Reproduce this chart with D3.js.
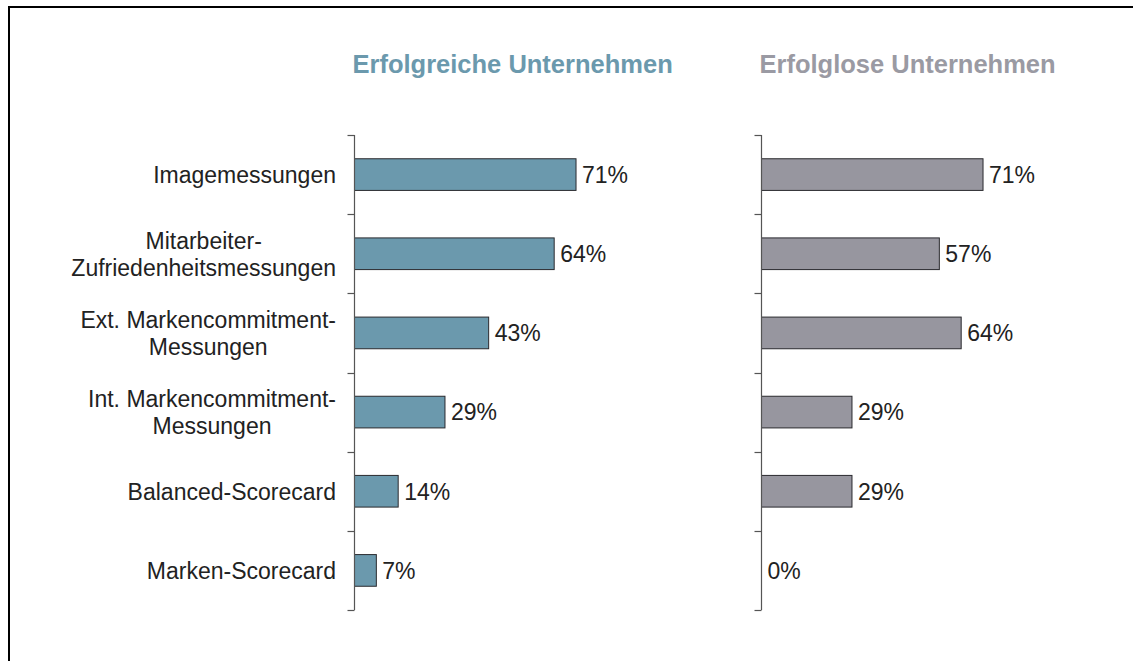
<!DOCTYPE html>
<html>
<head>
<meta charset="utf-8">
<script src="https://cdn.jsdelivr.net/npm/d3@7"></script>
<style>
  html, body { margin: 0; padding: 0; background: #fff; }
  svg { display: block; font-family: "Liberation Sans", Arial, sans-serif; }
</style>
</head>
<body>
<svg id="chart" width="1133" height="661"></svg>
<script>
// Kategorien (mehrzeilige Beschriftungen als Zeilenarrays)
const categories = [
  ["Imagemessungen"],
  ["Mitarbeiter-", "Zufriedenheitsmessungen"],
  ["Ext. Markencommitment-", "Messungen"],
  ["Int. Markencommitment-", "Messungen"],
  ["Balanced-Scorecard"],
  ["Marken-Scorecard"]
];
const successful = [71, 64, 43, 29, 14, 7];
const unsuccessful = [71, 57, 64, 29, 29, 0];
const panelTitles = ["Erfolgreiche Unternehmen", "Erfolglose Unternehmen"];

const svg = d3.select("#chart");

// Rahmen oben und links
svg.append("path")
  .attr("d", "M9,661 V7 H1133")
  .attr("fill", "none")
  .attr("stroke", "#000")
  .attr("stroke-width", 2);

const keys = categories.map((c, i) => i);
const y = d3.scaleBand().domain(keys).range([135, 610]).paddingInner(0.6).paddingOuter(0.3);
const yTicks = d3.scaleBand().domain(keys).range([135, 610]);

const panels = [
  { x0: 354.5, values: successful, fill: "#6b99ad", title: panelTitles[0], titleColor: "#6b99ad" },
  { x0: 761.5, values: unsuccessful, fill: "#97969f", title: panelTitles[1], titleColor: "#9a9aa3" }
];

panels.forEach(p => {
  const x = d3.scaleLinear().domain([0, 100]).range([p.x0, p.x0 + 312]);
  const g = svg.append("g");

  g.append("text")
    .attr("x", p.x0 - 2)
    .attr("y", 73)
    .attr("fill", p.titleColor)
    .attr("font-weight", "bold")
    .attr("font-size", 25.5)
    .text(p.title);

  // Balken und Wertbeschriftungen
  const rows = p.values.map((v, i) => ({ v, i }));
  g.selectAll("rect")
    .data(rows.filter(d => d.v > 0))
    .join("rect")
    .attr("x", x(0))
    .attr("y", d => y(d.i))
    .attr("width", d => x(d.v) - x(0))
    .attr("height", y.bandwidth())
    .attr("fill", p.fill)
    .attr("stroke", "#2a2a2e")
    .attr("stroke-width", 1);

  g.selectAll("text.value")
    .data(rows)
    .join("text")
    .attr("class", "value")
    .attr("x", d => x(d.v) + 6)
    .attr("y", d => y(d.i) + y.bandwidth() / 2)
    .attr("dy", "0.36em")
    .attr("font-size", 23)
    .attr("fill", "#222")
    .text(d => d.v + "%");

  // Kategorienachse mit Ticks an den Bandgrenzen
  const axisG = g.append("g");
  axisG.append("line")
    .attr("x1", p.x0).attr("x2", p.x0)
    .attr("y1", 135).attr("y2", 610)
    .attr("stroke", "#555").attr("stroke-width", 1.2);
  const bounds = keys.map(k => yTicks(k)).concat([610]);
  axisG.selectAll("line.tick")
    .data(bounds)
    .join("line")
    .attr("class", "tick")
    .attr("x1", p.x0 - 7).attr("x2", p.x0)
    .attr("y1", d => Math.round(d) + 0.5).attr("y2", d => Math.round(d) + 0.5)
    .attr("stroke", "#555").attr("stroke-width", 1.2);
});

// Kategoriebeschriftungen: Block rechtsbündig, Zeilen zentriert
const labels = svg.append("g");
const rightEdge = 336;
categories.forEach((lines, i) => {
  const cy = y(i) + y.bandwidth() / 2;
  const t = labels.append("text")
    .attr("font-size", 23)
    .attr("fill", "#222");
  const spans = lines.map((line, j) =>
    t.append("tspan")
      .attr("y", cy + (j - (lines.length - 1) / 2) * 27)
      .attr("dy", "0.36em")
      .text(line));
  const maxW = d3.max(spans, s => s.node().getComputedTextLength());
  t.attr("text-anchor", "middle");
  spans.forEach(s => s.attr("x", rightEdge - maxW / 2));
});
</script>
</body>
</html>
